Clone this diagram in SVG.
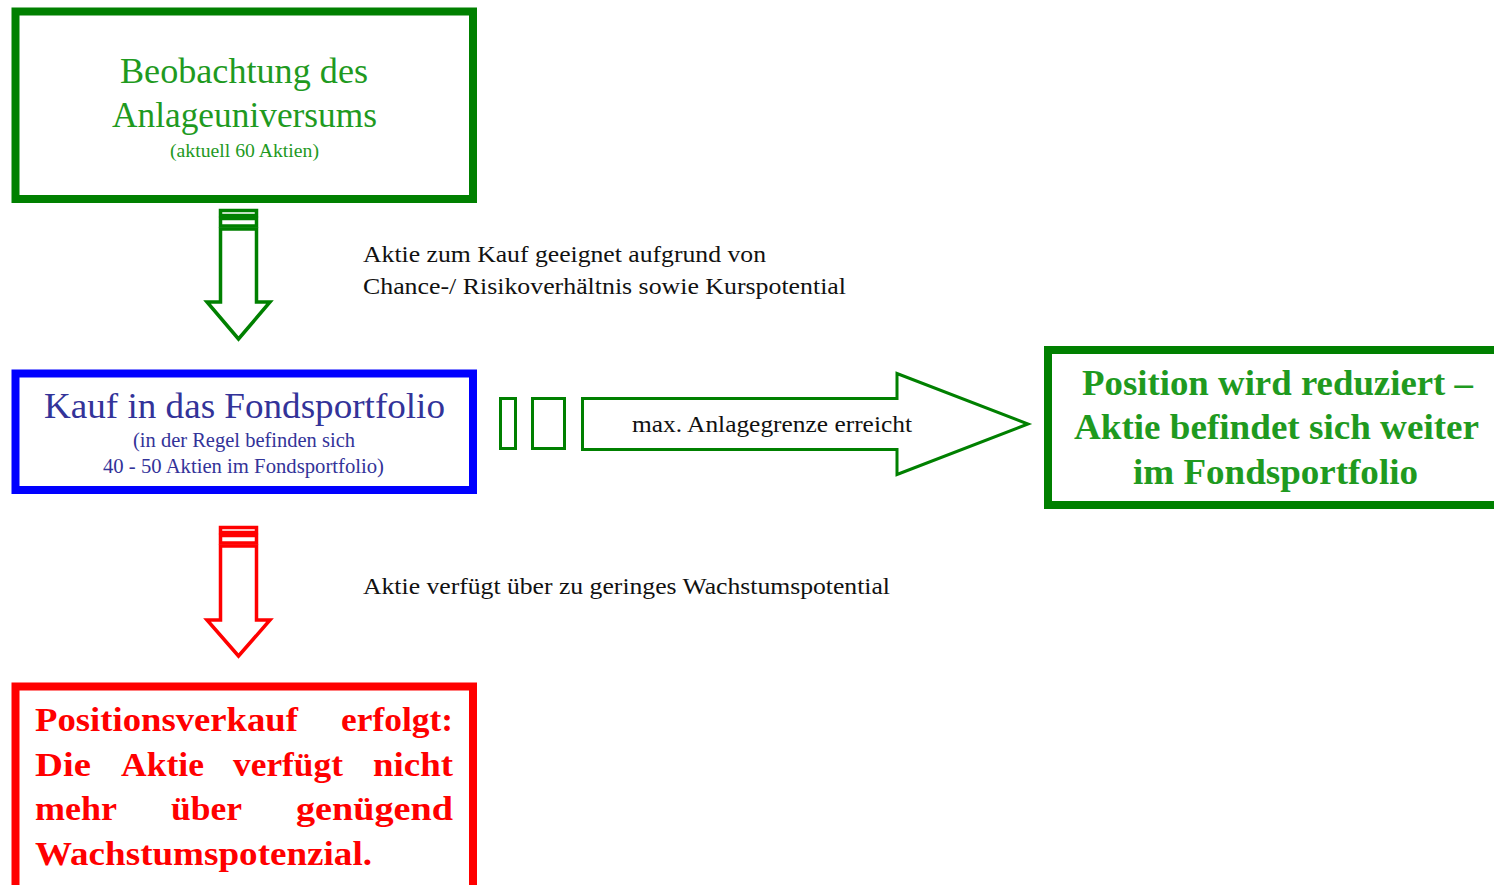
<svg xmlns="http://www.w3.org/2000/svg" width="1494" height="885" viewBox="0 0 1494 885">
<style>
text{font-family:"Liberation Serif","Times New Roman",serif}
.box{fill:#fff;stroke-width:8}
.g{stroke:#008000}
.b{stroke:#0000ff}
.r{stroke:#ff0000}
.gt{fill:#1f9a1f}
.bt{fill:#333399}
.rt{fill:#ff0000;font-weight:bold}
.lbl{fill:#111;font-size:23px}
.ga{fill:#fff;stroke:#008000;stroke-width:3.5}
.ra{fill:#fff;stroke:#ff0000;stroke-width:3.5}
.ha{fill:#fff;stroke:#008000;stroke-width:3}
</style>
<g id="connectors">
  <g id="arrow-down-green">
    <rect class="ga" x="220.5" y="210.5" width="36" height="5" stroke-width="2"/>
    <rect class="ga" x="220.5" y="218.5" width="36" height="7.5" stroke-width="2.5"/>
    <path class="ga" d="M220.5,229 L256.5,229 L256.5,302 L270,302 L238.5,339 L207,302 L220.5,302 Z"/>
  </g>
  <g id="arrow-down-red">
    <rect class="ra" x="220.5" y="527.5" width="36" height="5" stroke-width="2"/>
    <rect class="ra" x="220.5" y="535.5" width="36" height="7.5" stroke-width="2.5"/>
    <path class="ra" d="M220.5,546 L256.5,546 L256.5,620 L270,620 L238.5,656 L207,620 L220.5,620 Z"/>
  </g>
  <g id="arrow-right-green">
    <rect class="ha" x="500.5" y="398.5" width="15" height="50"/>
    <rect class="ha" x="532.5" y="398.5" width="32" height="50"/>
    <path class="ha" d="M582.5,398.5 L897,398.5 L897,373.5 L1028,424 L897,474.5 L897,449.5 L582.5,449.5 Z"/>
  </g>
  <text class="lbl" x="363" y="262" textLength="403" lengthAdjust="spacingAndGlyphs">Aktie zum Kauf geeignet aufgrund von</text>
  <text class="lbl" x="363" y="294" textLength="483" lengthAdjust="spacingAndGlyphs">Chance-/ Risikoverhältnis sowie Kurspotential</text>
  <text class="lbl" x="363" y="594" textLength="527" lengthAdjust="spacingAndGlyphs">Aktie verfügt über zu geringes Wachstumspotential</text>
  <text class="lbl" x="632" y="432" textLength="280" lengthAdjust="spacingAndGlyphs">max. Anlagegrenze erreicht</text>
</g>
<g id="node-beobachtung">
  <rect class="box g" x="15.5" y="11.5" width="457.5" height="187.5"/>
  <text class="gt" x="120" y="83" font-size="35" textLength="248" lengthAdjust="spacingAndGlyphs">Beobachtung des</text>
  <text class="gt" x="112" y="127" font-size="35" textLength="265" lengthAdjust="spacingAndGlyphs">Anlageuniversums</text>
  <text class="gt" x="170" y="157" font-size="18" textLength="149" lengthAdjust="spacingAndGlyphs">(aktuell 60 Aktien)</text>
</g>
<g id="node-kauf">
  <rect class="box b" x="15.5" y="373.5" width="457.5" height="116.5"/>
  <text class="bt" x="44" y="418" font-size="35" textLength="401" lengthAdjust="spacingAndGlyphs">Kauf in das Fondsportfolio</text>
  <text class="bt" x="133" y="447" font-size="20" textLength="222" lengthAdjust="spacingAndGlyphs">(in der Regel befinden sich</text>
  <text class="bt" x="103" y="473" font-size="20" textLength="281" lengthAdjust="spacingAndGlyphs">40 - 50 Aktien im Fondsportfolio)</text>
</g>
<g id="node-reduziert">
  <rect class="box g" x="1048" y="350" width="460" height="155"/>
  <text class="gt" x="1082" y="395" font-size="35" font-weight="bold" textLength="391" lengthAdjust="spacingAndGlyphs">Position wird reduziert –</text>
  <text class="gt" x="1074" y="439" font-size="35" font-weight="bold" textLength="405" lengthAdjust="spacingAndGlyphs">Aktie befindet sich weiter</text>
  <text class="gt" x="1133" y="484" font-size="35" font-weight="bold" textLength="285" lengthAdjust="spacingAndGlyphs">im Fondsportfolio</text>
</g>
<g id="node-verkauf">
  <rect class="box r" x="15.5" y="686.5" width="457.5" height="204"/>
  <g class="rt" font-size="34">
    <text x="35" y="731" textLength="263" lengthAdjust="spacingAndGlyphs">Positionsverkauf</text>
    <text x="341" y="731" textLength="112" lengthAdjust="spacingAndGlyphs">erfolgt:</text>
    <text x="35" y="776" textLength="56" lengthAdjust="spacingAndGlyphs">Die</text>
    <text x="121" y="776" textLength="83" lengthAdjust="spacingAndGlyphs">Aktie</text>
    <text x="233" y="776" textLength="110" lengthAdjust="spacingAndGlyphs">verfügt</text>
    <text x="373" y="776" textLength="80" lengthAdjust="spacingAndGlyphs">nicht</text>
    <text x="35" y="820" textLength="82" lengthAdjust="spacingAndGlyphs">mehr</text>
    <text x="171" y="820" textLength="71" lengthAdjust="spacingAndGlyphs">über</text>
    <text x="296" y="820" textLength="157" lengthAdjust="spacingAndGlyphs">genügend</text>
    <text x="35" y="865" textLength="337" lengthAdjust="spacingAndGlyphs">Wachstumspotenzial.</text>
  </g>
</g>
</svg>
